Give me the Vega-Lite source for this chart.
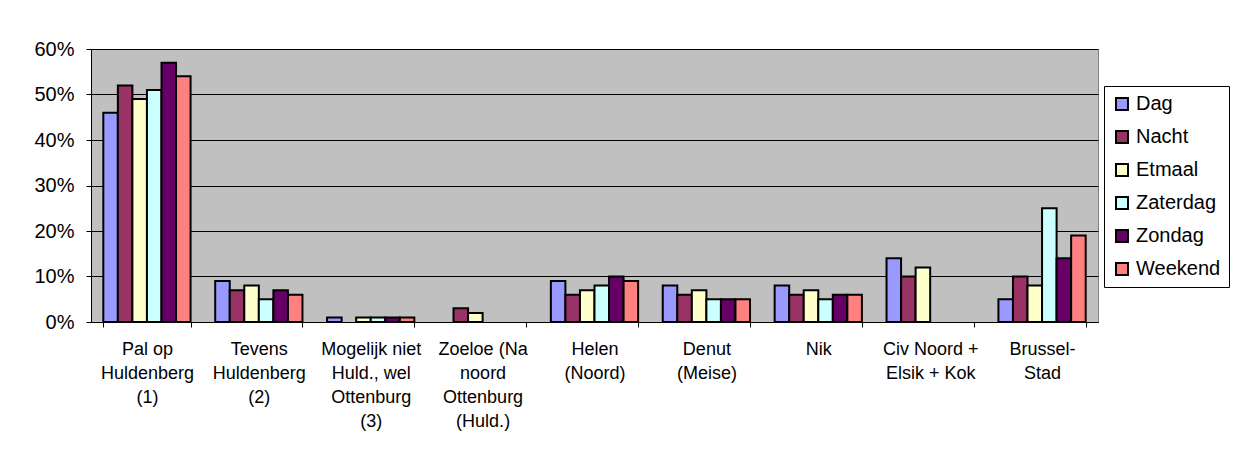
{
  "$schema": "https://vega.github.io/schema/vega-lite/v6.json",
  "width": 1007,
  "height": 273,
  "autosize": {"type": "none"},
  "padding": {"left": 91, "top": 49, "right": 137, "bottom": 134},
  "background": "white",
  "config": {
    "font": "Liberation Sans",
    "view": {"fill": "#C0C0C0", "stroke": "#808080", "strokeWidth": 1}
  },
  "data": {
    "values": [
      {"cat": "Pal op|Huldenberg|(1)", "serie": "Dag", "v": 0.46},
      {"cat": "Pal op|Huldenberg|(1)", "serie": "Nacht", "v": 0.52},
      {"cat": "Pal op|Huldenberg|(1)", "serie": "Etmaal", "v": 0.49},
      {"cat": "Pal op|Huldenberg|(1)", "serie": "Zaterdag", "v": 0.51},
      {"cat": "Pal op|Huldenberg|(1)", "serie": "Zondag", "v": 0.57},
      {"cat": "Pal op|Huldenberg|(1)", "serie": "Weekend", "v": 0.54},
      {"cat": "Tevens|Huldenberg|(2)", "serie": "Dag", "v": 0.09},
      {"cat": "Tevens|Huldenberg|(2)", "serie": "Nacht", "v": 0.07},
      {"cat": "Tevens|Huldenberg|(2)", "serie": "Etmaal", "v": 0.08},
      {"cat": "Tevens|Huldenberg|(2)", "serie": "Zaterdag", "v": 0.05},
      {"cat": "Tevens|Huldenberg|(2)", "serie": "Zondag", "v": 0.07},
      {"cat": "Tevens|Huldenberg|(2)", "serie": "Weekend", "v": 0.06},
      {"cat": "Mogelijk niet|Huld., wel|Ottenburg|(3)", "serie": "Dag", "v": 0.01},
      {"cat": "Mogelijk niet|Huld., wel|Ottenburg|(3)", "serie": "Etmaal", "v": 0.01},
      {"cat": "Mogelijk niet|Huld., wel|Ottenburg|(3)", "serie": "Zaterdag", "v": 0.01},
      {"cat": "Mogelijk niet|Huld., wel|Ottenburg|(3)", "serie": "Zondag", "v": 0.01},
      {"cat": "Mogelijk niet|Huld., wel|Ottenburg|(3)", "serie": "Weekend", "v": 0.01},
      {"cat": "Zoeloe (Na|noord|Ottenburg|(Huld.)", "serie": "Nacht", "v": 0.03},
      {"cat": "Zoeloe (Na|noord|Ottenburg|(Huld.)", "serie": "Etmaal", "v": 0.02},
      {"cat": "Helen|(Noord)", "serie": "Dag", "v": 0.09},
      {"cat": "Helen|(Noord)", "serie": "Nacht", "v": 0.06},
      {"cat": "Helen|(Noord)", "serie": "Etmaal", "v": 0.07},
      {"cat": "Helen|(Noord)", "serie": "Zaterdag", "v": 0.08},
      {"cat": "Helen|(Noord)", "serie": "Zondag", "v": 0.10},
      {"cat": "Helen|(Noord)", "serie": "Weekend", "v": 0.09},
      {"cat": "Denut|(Meise)", "serie": "Dag", "v": 0.08},
      {"cat": "Denut|(Meise)", "serie": "Nacht", "v": 0.06},
      {"cat": "Denut|(Meise)", "serie": "Etmaal", "v": 0.07},
      {"cat": "Denut|(Meise)", "serie": "Zaterdag", "v": 0.05},
      {"cat": "Denut|(Meise)", "serie": "Zondag", "v": 0.05},
      {"cat": "Denut|(Meise)", "serie": "Weekend", "v": 0.05},
      {"cat": "Nik", "serie": "Dag", "v": 0.08},
      {"cat": "Nik", "serie": "Nacht", "v": 0.06},
      {"cat": "Nik", "serie": "Etmaal", "v": 0.07},
      {"cat": "Nik", "serie": "Zaterdag", "v": 0.05},
      {"cat": "Nik", "serie": "Zondag", "v": 0.06},
      {"cat": "Nik", "serie": "Weekend", "v": 0.06},
      {"cat": "Civ Noord +|Elsik + Kok", "serie": "Dag", "v": 0.14},
      {"cat": "Civ Noord +|Elsik + Kok", "serie": "Nacht", "v": 0.10},
      {"cat": "Civ Noord +|Elsik + Kok", "serie": "Etmaal", "v": 0.12},
      {"cat": "Brussel-|Stad", "serie": "Dag", "v": 0.05},
      {"cat": "Brussel-|Stad", "serie": "Nacht", "v": 0.10},
      {"cat": "Brussel-|Stad", "serie": "Etmaal", "v": 0.08},
      {"cat": "Brussel-|Stad", "serie": "Zaterdag", "v": 0.25},
      {"cat": "Brussel-|Stad", "serie": "Zondag", "v": 0.14},
      {"cat": "Brussel-|Stad", "serie": "Weekend", "v": 0.19}
    ]
  },
  "mark": {"type": "bar", "stroke": "black", "strokeWidth": 2},
  "encoding": {
    "x": {
      "field": "cat",
      "type": "nominal",
      "sort": null,
      "scale": {"paddingInner": 0.22, "paddingOuter": 0.11},
      "axis": {
        "title": null,
        "labelAngle": 0,
        "labelExpr": "split(datum.label, '|')",
        "labelFontSize": 18,
        "labelLineHeight": 24,
        "labelColor": "black",
        "labelPadding": 13,
        "labelLimit": 200,
        "tickBand": "extent",
        "tickColor": "black",
        "tickSize": 5,
        "domainColor": "black",
        "labelBaseline": "top"
      }
    },
    "xOffset": {
      "field": "serie",
      "type": "nominal",
      "sort": ["Dag", "Nacht", "Etmaal", "Zaterdag", "Zondag", "Weekend"],
      "scale": {"paddingInner": 0, "paddingOuter": 0}
    },
    "y": {
      "field": "v",
      "type": "quantitative",
      "scale": {"domain": [0, 0.6], "nice": false},
      "axis": {
        "title": null,
        "format": ".0%",
        "values": [0, 0.1, 0.2, 0.3, 0.4, 0.5, 0.6],
        "labelFontSize": 20,
        "labelColor": "black",
        "labelPadding": 12,
        "tickColor": "black",
        "tickSize": 5,
        "domainColor": "black",
        "gridColor": "black",
        "gridOpacity": 1,
        "gridWidth": 1
      }
    },
    "color": {
      "field": "serie",
      "type": "nominal",
      "sort": ["Dag", "Nacht", "Etmaal", "Zaterdag", "Zondag", "Weekend"],
      "scale": {
        "domain": ["Dag", "Nacht", "Etmaal", "Zaterdag", "Zondag", "Weekend"],
        "range": ["#9999FF", "#993366", "#FFFFCC", "#CCFFFF", "#660066", "#FF8080"]
      },
      "legend": {
        "title": null,
        "orient": "none",
        "legendX": 1013,
        "legendY": 37,
        "padding": 8,
        "strokeColor": "black",
        "fillColor": "white",
        "symbolType": "square",
        "symbolSize": 144,
        "symbolStrokeColor": "black",
        "symbolStrokeWidth": 2,
        "symbolOpacity": 1,
        "labelFontSize": 20,
        "labelColor": "black",
        "labelOffset": 4,
        "rowPadding": 13,
        "clipHeight": 20
      }
    }
  }
}
